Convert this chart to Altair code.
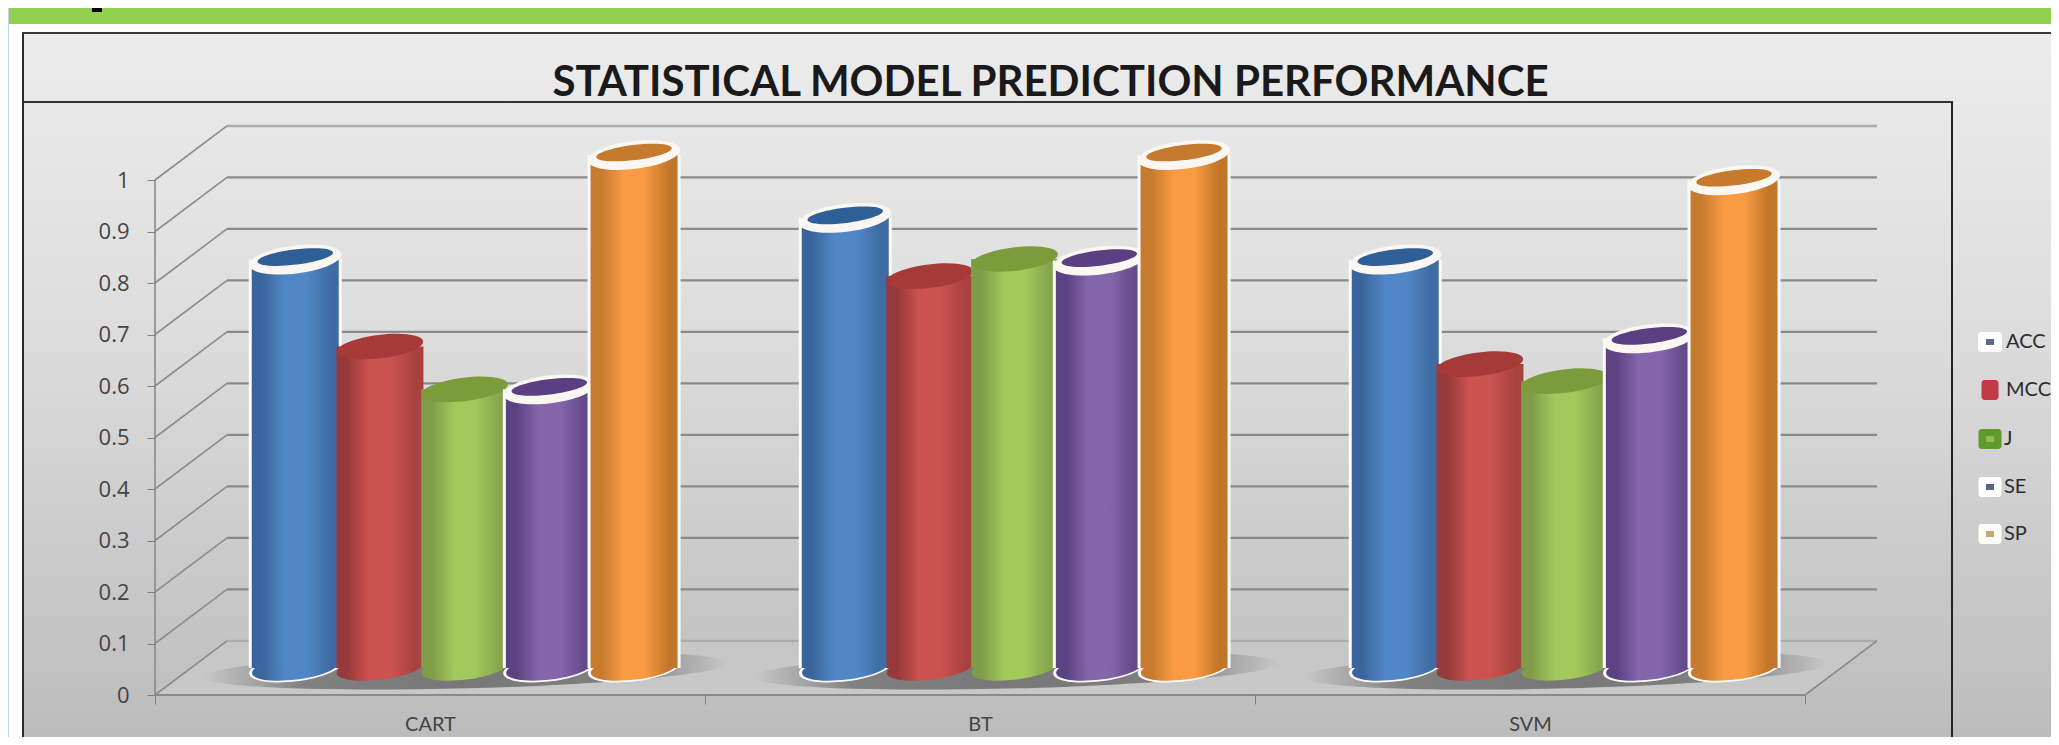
import math
import altair as alt
import pandas as pd

groups = ["CART", "BT", "SVM"]
series = ["ACC", "MCC", "J", "SE", "SP"]
acc = [0.793, 0.874, 0.793]
mcc = [0.624, 0.761, 0.590]
j_v = [0.541, 0.794, 0.557]
se = [0.541, 0.791, 0.640]
sp = [0.996, 0.996, 0.947]
values = [acc, mcc, j_v, se, sp]
ticks = [0, 0.1, 0.2, 0.3, 0.4, 0.5, 0.6, 0.7, 0.8, 0.9, 1]

W, H = 2043, 729
X0, XU = 147.0, 550.0
Y0, YU = 687.0, 515.0
DX, DY = 72 / XU, 0.105
HALF = 43.5 / XU
FONT = "Lato"

xs = alt.Scale(domain=[-X0 / XU, (W - X0) / XU], range=[0, W], nice=False, zero=False)
ys = alt.Scale(domain=[(Y0 - H) / YU, Y0 / YU], range=[H, 0], nice=False, zero=False)


def ellipse(ry, deg=-7.0):
    k = 0.5523
    t = math.radians(deg)
    def p(a, b):
        return f"{a*math.cos(t)-b*ry*math.sin(t):.4f} {a*math.sin(t)+b*ry*math.cos(t):.4f}"
    return (f"M{p(-1,0)}C{p(-1,-k)} {p(-k,-1)} {p(0,-1)}C{p(k,-1)} {p(1,-k)} {p(1,0)}"
            f"C{p(1,k)} {p(k,1)} {p(0,1)}C{p(-k,1)} {p(-1,k)} {p(-1,0)}Z")


def grad(stops, horizontal=True):
    return alt.LinearGradient(
        gradient="linear",
        stops=[alt.GradientStop(color=c, offset=o) for o, c in stops],
        x1=0, y1=0, x2=1 if horizontal else 0, y2=0 if horizontal else 1,
    )


def body(edge_l, mid, edge_r):
    return grad([(0, edge_l), (0.12, edge_l), (0.38, mid), (0.62, mid), (0.9, edge_r), (1, edge_r)])


styles = [
    dict(l="#3a659c", m="#5287c7", r="#3f6da3", top="#2f5f97", white=True),
    dict(l="#96393a", m="#cc5350", r="#a84240", top="#a63a38", white=False),
    dict(l="#7f9c48", m="#a2c95c", r="#86a54c", top="#7c9c3c", white=False),
    dict(l="#5b4281", m="#8566aa", r="#634a8b", top="#5a3f83", white=True),
    dict(l="#c67b2f", m="#f89b42", r="#c2762a", top="#c67a2e", white=True),
]

axis_y = alt.Axis(values=ticks, offset=-X0, grid=False, domain=False, tickSize=8,
                  tickColor="#808080", labelFont="Open Sans", labelFontSize=22, labelColor="#444444",
                  labelExpr="format(datum.value, '~g')",
                  labelPadding=18, title=None, zindex=1)
axis_x = alt.Axis(values=[0, 1, 2, 3], offset=Y0 - H, grid=False, domain=False, tickSize=9,
                  tickColor="#808080", labelFont=FONT, labelFontSize=20, labelColor="#444444",
                  labelExpr="['CART','BT','SVM',''][datum.value]", labelOffset=XU / 2,
                  labelPadding=10, labelAlign="center", title=None, zindex=1)


def XE(field):
    return alt.X(field + ":Q", scale=xs, axis=axis_x)


def YE(field):
    return alt.Y(field + ":Q", scale=ys, axis=axis_y)


X, Y = XE("x"), YE("y")
layers = []


def deco(color, x, x2, y, y2, **kw):
    return alt.Chart().mark_rect(color=color, **kw).encode(
        x=alt.value(x), x2=alt.value(x2), y=alt.value(y), y2=alt.value(y2))


# page furniture
layers.append(deco("#ffffff", 0, W, 0, H))
layers.append(deco("#c5cff4", 0, 1, 0, H))
layers.append(deco("#92d050", 1, W, 0, 16))
layers.append(deco("#000000", 84, 94, 0, 4))
layers.append(deco(grad([(0, "#ececec"), (0.4, "#dedede"), (1, "#bcbcbc")], False), 15, W, 25, H))
layers.append(deco("#2a2a2a", 14, 16, 25, H))
layers.append(deco("#3a3a3a", 14, W, 24, 26))
layers.append(deco("#333333", 15, 1945, 93, 95))
layers.append(deco("#222222", 1943, 1945, 94, H))

# floor
floor = pd.DataFrame({"x": [0, DX, 3, 3 + DX], "y": [0, 0, 0, DY], "y2": [0, DY, DY, DY]})
layers.append(alt.Chart(floor).mark_area(
    color=grad([(0, "#c6c6c6"), (1, "#c8c8c8")], False)).encode(
    x=X, y=Y, y2="y2:Q"))

# grid on the walls
wall = pd.DataFrame({"v": ticks})
wall["x"], wall["x2"] = DX, 3 + DX
wall["y"] = wall["v"] + DY
inner = wall[(wall["v"] > 0) & (wall["v"] < 1)]
outer_lines = wall[(wall["v"] == 0) | (wall["v"] == 1)]
layers.append(alt.Chart(inner).mark_rule(color="#8a8a8a", strokeWidth=2.2).encode(
    x=X, x2="x2:Q", y=Y))
layers.append(alt.Chart(outer_lines).mark_rule(color="#ababab", strokeWidth=2.4).encode(
    x=X, x2="x2:Q", y=Y))
side = pd.DataFrame({"v": ticks})
side["x"], side["x2"] = 0, DX
side["y"], side["y2"] = side["v"], side["v"] + DY
layers.append(alt.Chart(side).mark_rule(color="#8c8c8c", strokeWidth=1.6).encode(
    x=X, x2="x2:Q", y=Y, y2="y2:Q"))
edges = pd.DataFrame({"x": [3, 0], "x2": [3 + DX, 0], "y": [0, 0], "y2": [DY, 1]})
layers.append(alt.Chart(edges).mark_rule(color="#8a8a8a", strokeWidth=1.6).encode(
    x=X, x2="x2:Q", y=Y, y2="y2:Q"))
front = pd.DataFrame({"x": [0], "x2": [3], "y": [0]})
layers.append(alt.Chart(front).mark_rule(color="#8a8a8a", strokeWidth=2).encode(
    x=X, x2="x2:Q", y=Y))

# ground shadows
shade = alt.RadialGradient(
    gradient="radial",
    stops=[alt.GradientStop(color="rgba(105,105,105,0.85)", offset=0),
           alt.GradientStop(color="rgba(105,105,105,0.75)", offset=0.62),
           alt.GradientStop(color="rgba(105,105,105,0)", offset=1)],
    r1=0, r2=0.5, x1=0.5, x2=0.5, y1=0.5, y2=0.5)
shadow = pd.DataFrame({"x": [g + 0.565 for g in range(3)], "y": [DY / 2 - 0.004] * 3})
layers.append(alt.Chart(shadow).mark_point(
    shape=ellipse(0.07, -1.5), filled=True, fill=shade, strokeWidth=0, opacity=1,
    size=(2 * 262) ** 2).encode(x=X, y=Y))

# cylinders
for i, name in enumerate(series):
    st = styles[i]
    centre = 0.255 + 0.154 * i
    df = pd.DataFrame({
        "group": groups,
        "v": values[i],
        "xc": [g + centre for g in range(3)],
    })
    df["x"], df["x2"] = df["xc"] - HALF, df["xc"] + HALF
    df["y"], df["y2"] = df["v"] + DY / 2, DY / 2
    df["yi"] = df["y"] + 2.5 / YU
    pts_x = XE("xc")
    fill = body(st["l"], st["m"], st["r"])
    size = (2 * 43.5) ** 2
    shape = ellipse(0.27)
    if st["white"]:
        w = 3 / XU
        df["xa"], df["xb"] = df["x"] - w, df["x2"] + w
        outer = (2 * 46.5) ** 2
        layers.append(alt.Chart(df).mark_rect(color="#fbfbfb").encode(
            x=XE("xa"), x2="xb:Q", y=Y, y2="y2:Q"))
        layers.append(alt.Chart(df).mark_point(shape=ellipse(0.29), filled=True, color="#fbfbfb",
                                               opacity=1, size=outer).encode(
            x=pts_x, y=YE("y2")))
    layers.append(alt.Chart(df).mark_point(shape=shape, filled=True, fill=fill, strokeWidth=0,
                                           opacity=1, size=size).encode(
        x=pts_x, y=YE("y2")))
    layers.append(alt.Chart(df).mark_rect(color=fill).encode(x=X, x2="x2:Q", y=Y, y2="y2:Q"))
    if st["white"]:
        layers.append(alt.Chart(df).mark_point(shape=ellipse(0.30), filled=True, color="#faf7f2",
                                               opacity=1, size=outer).encode(x=pts_x, y=Y))
        layers.append(alt.Chart(df).mark_point(shape=ellipse(0.2), filled=True, color=st["top"],
                                               opacity=1, size=(2 * 38) ** 2).encode(
            x=pts_x, y=YE("yi")))
    else:
        layers.append(alt.Chart(df).mark_point(shape=shape, filled=True, color=st["top"],
                                               opacity=1, size=size).encode(x=pts_x, y=Y))

# legend
leg_y = [334, 382, 431, 479, 526]
leg_outer = ["#ffffff", "#c23a46", "#5f9a2c", "#ffffff", "#fffdf8"]
leg_inner = ["#5b6b8c", "#c23a46", "#8fbf4a", "#5c6684", "#c8a878"]
leg_w = [24, 17, 23, 23, 23]
leg_x = [2006, 2006, 2004, 2004, 2004]
for i, name in enumerate(series):
    cx, cy = 1982, leg_y[i]
    hw = leg_w[i] / 2
    layers.append(deco(leg_outer[i], cx - hw, cx + hw, cy - 10, cy + 10, cornerRadius=3))
    layers.append(deco(leg_inner[i], cx - 4, cx + 4, cy - 3, cy + 3))
    layers.append(alt.Chart().mark_text(text=name, align="left", baseline="middle", font=FONT,
                                        fontSize=20, color="#2c2c2c").encode(
        x=alt.value(leg_x[i] - 8), y=alt.value(cy)))

chart = alt.layer(*layers).properties(
    width=W, height=H, padding=0, autosize=alt.AutoSizeParams(type="none"),
    title=alt.TitleParams("STATISTICAL MODEL PREDICTION PERFORMANCE", font=FONT, fontSize=42,
                          fontWeight="bold", color="#1a1a1a", anchor="middle", dx=21, dy=121,
                          baseline="middle"),
).configure_view(stroke=None)

chart.save("out.html", embed_options={"renderer": "svg", "actions": False})
